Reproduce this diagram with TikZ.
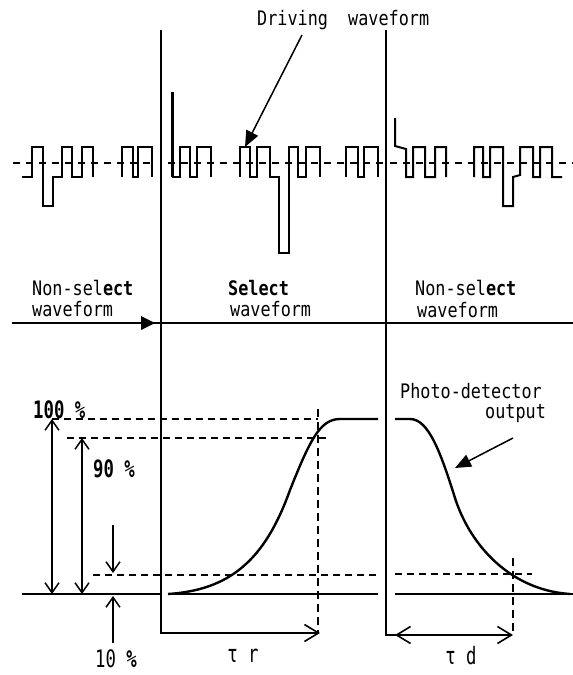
\documentclass[tikz,border=0pt]{standalone}
\usepackage{fontspec}
\newfontfamily\mono[FakeStretch=0.84]{DejaVu Sans Mono}
\newfontfamily\monobig[FakeStretch=0.72]{DejaVu Sans Mono}
\usetikzlibrary{arrows.meta}
\begin{document}
\begin{tikzpicture}[x=1pt,y=-1pt,
 lbl/.style={font=\mono\fontsize{20}{22}\selectfont, inner sep=0pt, anchor=west},
 biglbl/.style={font=\monobig\fontsize{24}{26}\selectfont, inner sep=0pt, anchor=west},
 main/.style={line width=2.2pt},
 wave/.style={line width=2pt, line join=miter},
 cdash/.style={line width=1.4pt, dash pattern=on 7pt off 6pt},
 lvl/.style={line width=1.6pt, dash pattern=on 7pt off 5pt},
 vdash/.style={line width=1.2pt, dash pattern=on 8pt off 5pt},
 barb/.tip={Straight Barb[length=10pt,width=14pt,line width=1.5pt]},
 bigbarb/.tip={Straight Barb[length=14pt,width=17pt,line width=1.6pt]},
 tri/.tip={Triangle[length=16pt,width=13pt]}
]
\useasboundingbox (0,0) rectangle (573,675);

% ---------- labels ----------
\node[lbl] (drv) at (257,20) {Driving~~waveform};
\node[lbl] (ns1) at (32,288) {Non-sel\textbf{ect}};
\node[lbl] (ns1w) at (32,309) {waveform};
\node[lbl] (sel) at (228,288) {\textbf{Select}};
\node[lbl] (selw) at (230,309) {waveform};
\node[lbl] (ns2) at (415,288) {Non-sel\textbf{ect}};
\node[lbl] (ns2w) at (417,310) {waveform};
\node[lbl] (pd) at (400,391) {Photo-detector};
\node[lbl] (pdo) at (485,414) {output};
\node[biglbl] (hund) at (33,410) {\textbf{100 \%}};
\node[biglbl] (ninety) at (93,469) {\textbf{90 \%}};
\node[biglbl] (ten) at (95,659) {10 \textbf{\%}};
\node[biglbl, anchor=center] (tr) at (243,656) {τ r};
\node[biglbl, anchor=center] (td) at (461,656) {τ d};

% ---------- frame lines ----------
\coordinate (v1t) at (161,30);
\coordinate (v1b) at (161,633);
\coordinate (trend) at (320,633);
\coordinate (v2t) at (386,30);
\coordinate (v2b) at (386,635);
\coordinate (tdend) at (513,635);
\coordinate (tdstart) at (395,635);
\draw[main, -bigbarb] (v1t) -- (v1b) -- (trend);
\draw[main, -bigbarb] (v2t) -- (v2b) -- (tdend);
\draw[main, bigbarb-] (tdstart) -- (420,635);

% ---------- waveform axis ----------
\coordinate (wl) at (12,323);
\coordinate (wr) at (573,323);
\draw[line width=2.5pt] (wl) -- (wr);
\fill (141,316) -- (155,323) -- (141,330) -- cycle;

% ---------- driving waveforms ----------
\draw[cdash] (13,163) -- (155,163);
\draw[cdash] (168,163) -- (383,163);
\draw[cdash] (390,163) -- (573,163);
% left section
\draw[wave] (22,177) -- (32,177) -- (32,147) -- (43,147) -- (43,206) -- (53,206)
  -- (53,177) -- (62,177) -- (62,147) -- (72,147) -- (72,177) -- (82,177)
  -- (82,147) -- (93,147) -- (93,177);
\draw[wave] (122,177) -- (122,147) -- (133,147) -- (133,177) -- (138,177)
  -- (138,147) -- (152,147) -- (152,177);
% middle section
\draw[line width=3pt] (172,92) -- (172,177);
\draw[wave] (172,177) -- (180,177) -- (180,147) -- (190,147) -- (190,177) -- (197,177)
  -- (197,147) -- (211,147) -- (211,177);
\draw[wave] (240,177) -- (240,147) -- (250,147) -- (250,177) -- (257,177)
  -- (257,147) -- (270,147) -- (270,177) -- (279,177) -- (279,253) -- (289,253)
  -- (289,147) -- (298,147) -- (298,177) -- (306,177) -- (306,147) -- (320,147)
  -- (320,177);
\draw[wave] (346,177) -- (346,147) -- (358,147) -- (358,177) -- (364,177)
  -- (364,147) -- (378,147) -- (378,177);
% right section
\draw[wave] (395,118) -- (395,146) -- (406,149) -- (406,177) -- (413,177)
  -- (413,147) -- (425,147) -- (425,177) -- (435,177) -- (435,147) -- (446,147)
  -- (446,177);
\draw[wave] (474,177) -- (474,147) -- (483,147) -- (483,177) -- (490,177)
  -- (490,147) -- (503,147) -- (503,206) -- (513,206) -- (513,177) -- (520,175)
  -- (520,147) -- (533,147) -- (533,177) -- (540,177) -- (540,147) -- (552,147)
  -- (552,177) -- (562,177);
% driving waveform pointer
\coordinate (drvtip) at (245,147);
\draw[line width=1.5pt, -tri] (302,35) -- (drvtip);

% ---------- levels ----------
\draw[lvl] (52,419) -- (318,419);
\draw[lvl] (67,438) -- (328,438);
\draw[lvl] (93,575) -- (378,575);
\draw[lvl] (395,574) -- (532,574);
\draw[vdash] (318,409) -- (318,633);
\draw[vdash] (513,558) -- (513,635);

% baselines
\draw[main] (22,594) -- (160,594);
\draw[line width=1.8pt] (168,594) -- (378,594);
\draw[line width=1.8pt] (395,594) -- (573,594);

% ---------- response curves ----------
\draw[line width=2.4pt] (168,594) .. controls (230,590) and (265,560) .. (290,490)
  .. controls (310,440) and (320,419) .. (340,419) -- (378,419);
\draw[line width=2.4pt] (395,419) -- (410,419) .. controls (428,419) and (440,450) .. (455,498)
  .. controls (470,545) and (510,590) .. (570,594);

% photo-detector pointer
\coordinate (pdtip) at (455,468);
\draw[line width=1.5pt, -tri] (513,438) -- (pdtip);

% ---------- dimension arrows ----------
\coordinate (a1t) at (52,419);
\coordinate (a1b) at (52,594);
\coordinate (a2t) at (82,438);
\coordinate (a2b) at (82,594);
\draw[line width=1.5pt, barb-barb] (a1t) -- (a1b);
\draw[line width=1.5pt, barb-barb] (a2t) -- (a2b);
\coordinate (s1) at (113,525);
\coordinate (s1e) at (113,573);
\coordinate (s2) at (113,643);
\coordinate (s2e) at (113,596);
\draw[line width=1.3pt, -barb] (s1) -- (s1e);
\draw[line width=1.3pt, -barb] (s2) -- (s2e);
\end{tikzpicture}
\end{document}
